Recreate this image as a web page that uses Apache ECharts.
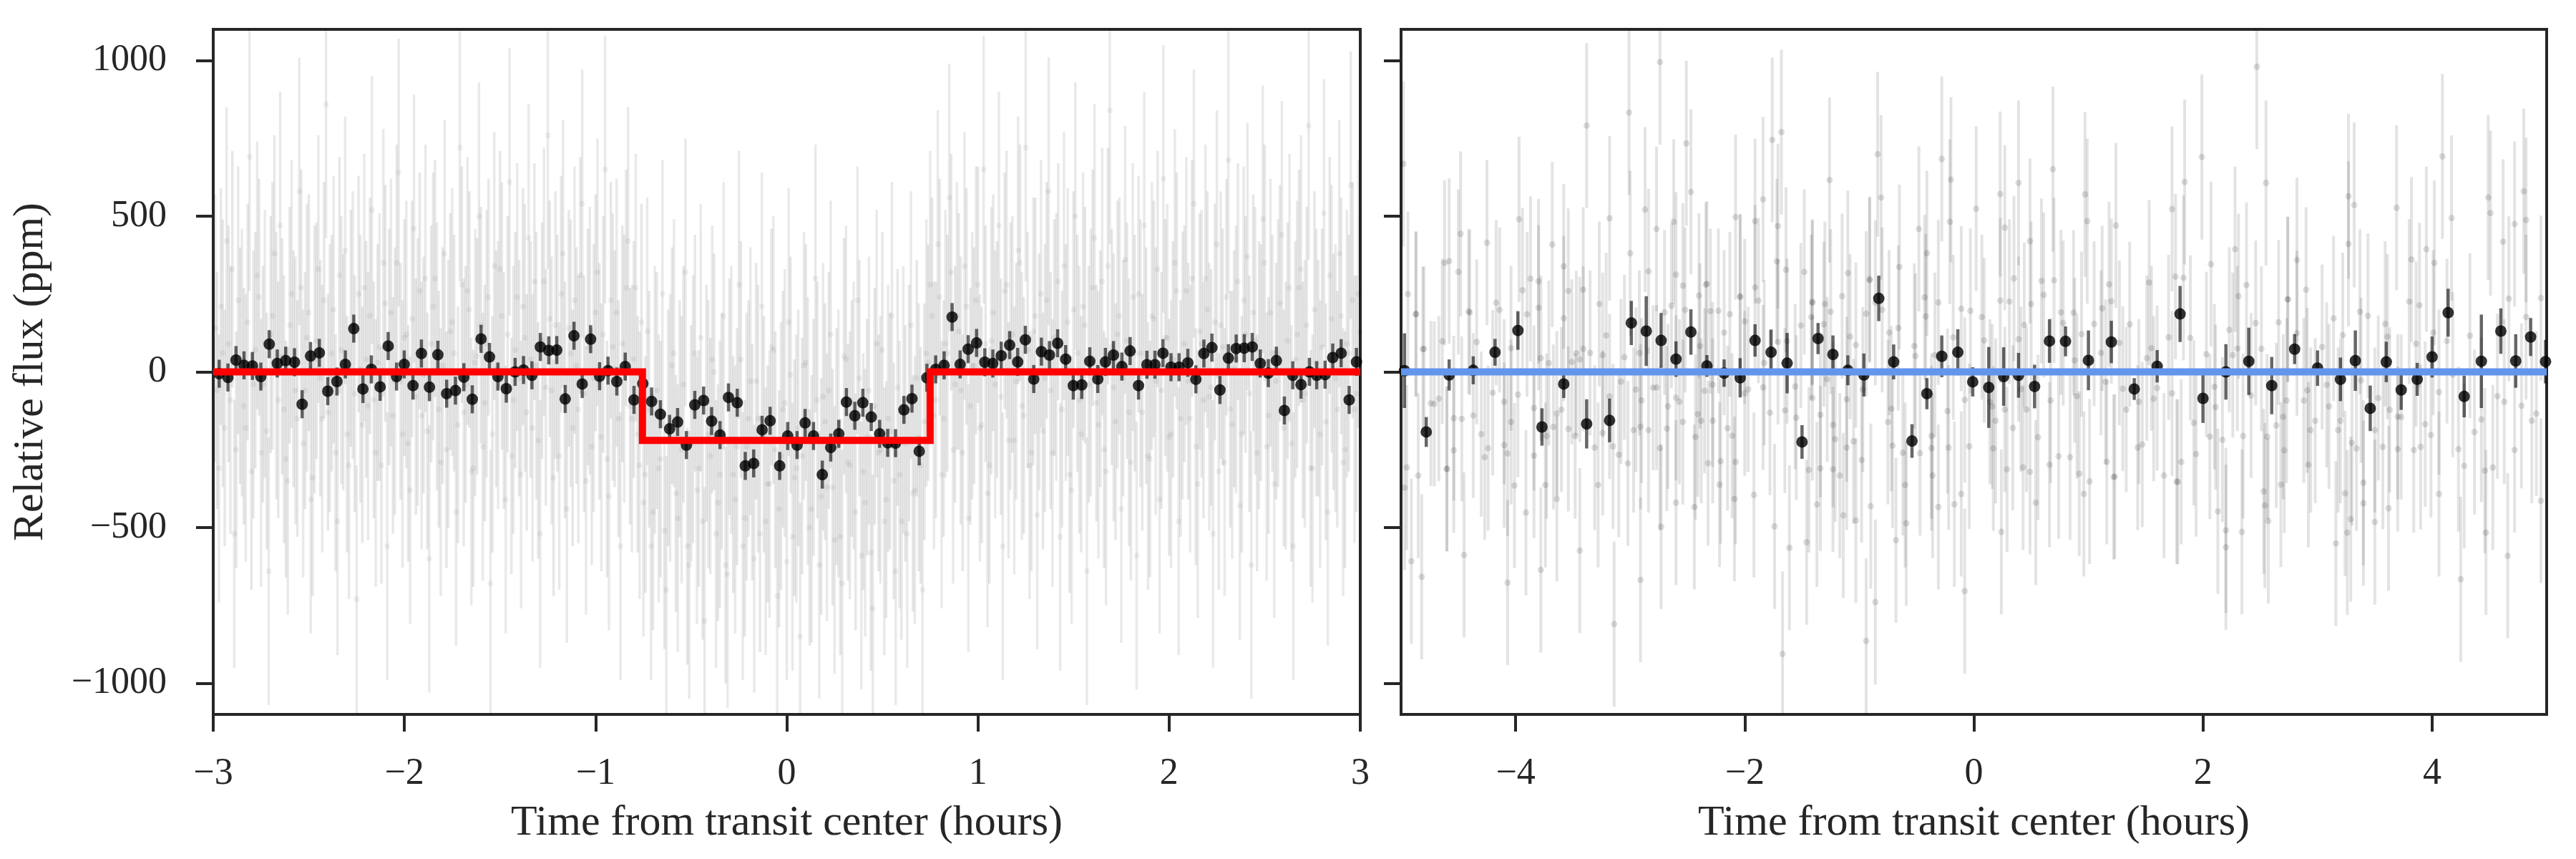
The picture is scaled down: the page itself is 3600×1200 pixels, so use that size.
<!DOCTYPE html>
<html><head><meta charset="utf-8">
<script src="https://cdn.jsdelivr.net/npm/echarts@6/dist/echarts.min.js"></script>
<style>html,body{margin:0;padding:0;background:#fff}#c{width:3600px;height:1200px}</style>
</head><body><div id="c"></div>
<script>
// ---------- DATA ----------
const xTicksLeft = [-3, -2, -1, 0, 1, 2, 3];
const xTicksRight = [-4, -2, 0, 2, 4];
const yTicks = [-1000, -500, 0, 500, 1000];

// transit model (left) and flat model (right)
const modelLeftT = [-3, -0.755, -0.755, 0.75, 0.75, 3];
const modelLeftF = [0, 0, -220, -220, 0, 0];
const modelRightT = [-5, 5];
const modelRightF = [0, 0];

// binned points, left panel [time h, flux ppm]
const leftBinned = [[-2.969,-6],[-2.923,-18],[-2.881,38],[-2.839,21],[-2.795,19],[-2.751,-15],[-2.707,89],[-2.665,27],[-2.621,36],[-2.575,31],[-2.535,-104],[-2.491,51],[-2.445,61],[-2.401,-62],[-2.353,-31],[-2.309,24],[-2.265,139],[-2.217,-55],[-2.173,8],[-2.127,-48],[-2.085,83],[-2.041,-15],[-2.001,24],[-1.955,-44],[-1.911,59],[-1.869,-49],[-1.825,55],[-1.779,-70],[-1.733,-60],[-1.689,-17],[-1.645,-88],[-1.599,106],[-1.555,48],[-1.511,-15],[-1.467,-54],[-1.421,0],[-1.377,6],[-1.333,-11],[-1.289,80],[-1.245,69],[-1.203,70],[-1.159,-87],[-1.113,116],[-1.070,-39],[-1.026,105],[-0.979,-14],[-0.935,4],[-0.889,-31],[-0.845,17],[-0.799,-90],[-0.753,-38],[-0.707,-95],[-0.661,-136],[-0.613,-183],[-0.571,-161],[-0.525,-235],[-0.481,-106],[-0.435,-92],[-0.393,-158],[-0.349,-203],[-0.305,-82],[-0.259,-99],[-0.217,-302],[-0.173,-294],[-0.129,-186],[-0.087,-157],[-0.037,-302],[0.005,-206],[0.054,-235],[0.096,-164],[0.140,-206],[0.186,-330],[0.230,-243],[0.272,-199],[0.312,-97],[0.356,-141],[0.398,-99],[0.442,-145],[0.486,-199],[0.528,-228],[0.569,-229],[0.613,-122],[0.655,-86],[0.693,-255],[0.733,-19],[0.779,8],[0.823,21],[0.865,176],[0.907,24],[0.949,73],[0.993,93],[1.036,31],[1.078,27],[1.122,52],[1.166,86],[1.208,32],[1.248,103],[1.292,-23],[1.332,65],[1.374,54],[1.417,92],[1.459,41],[1.499,-44],[1.543,-42],[1.585,34],[1.627,-23],[1.667,32],[1.709,54],[1.753,17],[1.796,67],[1.840,-44],[1.884,23],[1.926,23],[1.968,60],[2.010,15],[2.052,15],[2.098,29],[2.140,-24],[2.182,59],[2.224,78],[2.266,-58],[2.310,44],[2.351,75],[2.393,76],[2.435,80],[2.477,27],[2.519,-4],[2.561,36],[2.603,-124],[2.647,-11],[2.690,-41],[2.734,0],[2.772,-11],[2.816,-9],[2.856,46],[2.900,60],[2.942,-90],[2.980,32]];
const leftBinErr = 45;

// unbinned points, left panel (faint haze), set 1 [time h, flux ppm]
const leftRaw = [[-2.99,140],[-2.97,-310],[-2.95,60],[-2.93,420],[-2.91,-90],[-2.89,-520],[-2.87,230],[-2.85,30],[-2.83,-180],[-2.81,690],[-2.79,-40],[-2.77,310],[-2.75,-260],[-2.73,90],[-2.71,-640],[-2.69,180],[-2.67,20],[-2.65,470],[-2.63,-120],[-2.61,-350],
[-2.59,250],[-2.57,-60],[-2.55,580],[-2.53,-230],[-2.51,110],[-2.49,-410],[-2.47,40],[-2.45,330],[-2.43,-150],[-2.41,860],[-2.39,-20],[-2.37,200],[-2.35,-480],[-2.33,70],[-2.31,390],[-2.29,-300],[-2.27,150],[-2.25,-730],[-2.23,10],[-2.21,270],
[-2.19,-110],[-2.17,520],[-2.15,-260],[-2.13,80],[-2.11,350],[-2.09,-560],[-2.07,190],[-2.05,-30],[-2.03,640],[-2.01,-200],[-1.99,120],[-1.97,-380],[-1.95,460],[-1.93,0],[-1.91,-140],[-1.89,300],[-1.87,-600],[-1.85,210],[-1.83,50],[-1.81,-290],
[-1.79,380],[-1.77,-70],[-1.75,160],[-1.73,-450],[-1.71,720],[-1.69,-130],[-1.67,260],[-1.65,-320],[-1.63,30],[-1.61,500],[-1.59,-240],[-1.57,90],[-1.55,-680],[-1.53,340],[-1.51,-10],[-1.49,180],[-1.47,-410],[-1.45,610],[-1.43,-90],[-1.41,240],
[-1.39,-330],[-1.37,110],[-1.35,430],[-1.33,-180],[-1.31,20],[-1.29,-520],[-1.27,290],[-1.25,760],[-1.23,-60],[-1.21,150],[-1.19,-270],[-1.17,380],[-1.15,-440],[-1.13,60],[-1.11,230],[-1.09,-120],[-1.07,540],[-1.05,-350],[-1.03,100],[-1.01,-20],
[-0.99,320],[-0.97,-210],[-0.95,650],[-0.93,-400],[-0.91,80],[-0.89,190],[-0.87,-560],[-0.85,10],[-0.83,420],[-0.81,-150],[-0.79,270],[-0.77,-300],[-0.75,-420],[-0.73,130],[-0.71,-560],[-0.69,-90],[-0.67,-310],[-0.65,250],[-0.63,-700],[-0.61,-180],
[-0.59,60],[-0.57,-470],[-0.55,-250],[-0.53,320],[-0.51,-620],[-0.49,-120],[-0.47,-380],[-0.45,110],[-0.43,-800],[-0.41,-200],[-0.39,40],[-0.37,-520],[-0.35,-330],[-0.33,180],[-0.31,-650],[-0.29,-90],[-0.27,-410],[-0.25,280],[-0.23,-560],[-0.21,-240],
[-0.19,-30],[-0.17,-600],[-0.15,-150],[-0.13,210],[-0.11,-480],[-0.09,-360],[-0.07,70],[-0.05,-720],[-0.03,-270],[-0.01,-100],[0.01,160],[0.03,-530],[0.05,-310],[0.07,-850],[0.09,20],[0.11,-190],[0.13,-440],[0.15,300],[0.17,-620],[0.19,-80],
[0.21,-370],[0.23,120],[0.25,-540],[0.27,-230],[0.29,-680],[0.31,40],[0.33,-300],[0.35,-140],[0.37,230],[0.39,-590],[0.41,-420],[0.43,-60],[0.45,-760],[0.47,90],[0.49,-250],[0.51,-480],[0.53,-150],[0.55,180],[0.57,-640],[0.59,-330],
[0.61,-90],[0.63,-520],[0.65,150],[0.67,-380],[0.69,-210],[0.71,-700],[0.73,60],[0.75,280],[0.77,-140],[0.79,410],[0.81,-330],[0.83,90],[0.85,560],[0.87,-250],[0.89,180],[0.91,-60],[0.93,340],[0.95,-470],[0.97,20],[0.99,230],
[1.01,-180],[1.03,650],[1.05,-390],[1.07,100],[1.09,-40],[1.11,470],[1.13,-560],[1.15,280],[1.17,50],[1.19,-220],[1.21,390],[1.23,-110],[1.25,720],[1.27,-300],[1.29,130],[1.31,-460],[1.33,250],[1.35,-20],[1.37,580],[1.39,-260],
[1.41,80],[1.43,-530],[1.45,340],[1.47,160],[1.49,-380],[1.51,500],[1.53,-90],[1.55,210],[1.57,-640],[1.59,30],[1.61,430],[1.63,-170],[1.65,290],[1.67,-320],[1.69,840],[1.71,-50],[1.73,120],[1.75,-440],[1.77,360],[1.79,-130],
[1.81,240],[1.83,-590],[1.85,60],[1.87,470],[1.89,-270],[1.91,180],[1.93,-30],[1.95,-410],[1.97,620],[1.99,110],[2.01,-200],[2.03,350],[2.05,-480],[2.07,20],[2.09,260],[2.11,-150],[2.13,540],[2.15,-360],[2.17,90],[2.19,300],
[2.21,-80],[2.23,-520],[2.25,410],[2.27,150],[2.29,-290],[2.31,680],[2.33,-170],[2.35,40],[2.37,-430],[2.39,230],[2.41,370],[2.43,-620],[2.45,100],[2.47,-10],[2.49,490],[2.51,-240],[2.53,190],[2.55,-360],[2.57,60],[2.59,440],
[2.61,-140],[2.63,270],[2.65,-560],[2.67,120],[2.69,330],[2.71,-70],[2.73,790],[2.75,-310],[2.77,30],[2.79,-200],[2.81,510],[2.83,-450],[2.85,170],[2.87,-20],[2.89,380],[2.91,-290],[2.93,90],[2.95,600],[2.97,-120],[2.99,250]];
const leftRawErr = 430;

// unbinned points, left panel (faint haze), set 2 [time h, flux ppm]
const leftRaw2 = [[-2.98,-60],[-2.96,210],[-2.94,-180],[-2.92,90],[-2.90,330],[-2.88,-250],[-2.86,20],[-2.84,-110],[-2.82,160],[-2.80,-320],[-2.78,70],[-2.76,240],[-2.74,-40],[-2.72,-190],[-2.70,120],[-2.68,380],[-2.66,-90],[-2.64,50],[-2.62,-280],[-2.60,150],
[-2.58,10],[-2.56,-150],[-2.54,270],[-2.52,-60],[-2.50,190],[-2.48,-340],[-2.46,100],[-2.44,-20],[-2.42,230],[-2.40,-130],[-2.38,60],[-2.36,-260],[-2.34,310],[-2.32,0],[-2.30,-200],[-2.28,140],[-2.26,-70],[-2.24,250],[-2.22,-170],[-2.20,40],
[-2.18,180],[-2.16,-90],[-2.14,30],[-2.12,-300],[-2.10,220],[-2.08,80],[-2.06,-140],[-2.04,350],[-2.02,-30],[-2.00,110],[-1.98,-230],[-1.96,170],[-1.94,-80],[-1.92,260],[-1.90,-10],[-1.88,-190],[-1.86,90],[-1.84,300],[-1.82,-120],[-1.80,20],
[-1.78,-250],[-1.76,130],[-1.74,60],[-1.72,-170],[-1.70,280],[-1.68,-40],[-1.66,200],[-1.64,-310],[-1.62,50],[-1.60,150],[-1.58,-100],[-1.56,240],[-1.54,-200],[-1.52,10],[-1.50,330],[-1.48,-60],[-1.46,120],[-1.44,-270],[-1.42,70],[-1.40,-20],
[-1.38,210],[-1.36,-130],[-1.34,40],[-1.32,290],[-1.30,-220],[-1.28,100],[-1.26,-50],[-1.24,170],[-1.22,-340],[-1.20,60],[-1.18,250],[-1.16,-90],[-1.14,140],[-1.12,-180],[-1.10,20],[-1.08,310],[-1.06,-70],[-1.04,80],[-1.02,-240],[-1.00,190],
[-0.98,-30],[-0.96,120],[-0.94,-280],[-0.92,230],[-0.90,10],[-0.88,-150],[-0.86,90],[-0.84,270],[-0.82,-110],[-0.80,40],[-0.78,-200],[-0.76,160],[-0.74,-330],[-0.72,-120],[-0.70,-450],[-0.68,-60],[-0.66,-280],[-0.64,-510],[-0.62,-180],[-0.60,20],
[-0.58,-390],[-0.56,-150],[-0.54,-40],[-0.52,-560],[-0.50,-230],[-0.48,60],[-0.46,-310],[-0.44,-480],[-0.42,-100],[-0.40,-270],[-0.38,0],[-0.36,-420],[-0.34,-190],[-0.32,-620],[-0.30,-80],[-0.28,-330],[-0.26,-240],[-0.24,40],[-0.22,-470],[-0.20,-150],
[-0.18,-290],[-0.16,-30],[-0.14,-520],[-0.12,-200],[-0.10,-360],[-0.08,80],[-0.06,-250],[-0.04,-440],[-0.02,-120],[0.00,-610],[0.02,-10],[0.04,-340],[0.06,-180],[0.08,-270],[0.10,30],[0.12,-500],[0.14,-210],[0.16,-90],[0.18,-400],[0.20,-160],
[0.22,-60],[0.24,-370],[0.26,-240],[0.28,-530],[0.30,50],[0.32,-290],[0.34,-150],[0.36,-450],[0.38,-20],[0.40,-320],[0.42,-210],[0.44,-580],[0.46,-110],[0.48,-260],[0.50,70],[0.52,-410],[0.54,-190],[0.56,-350],[0.58,-50],[0.60,-480],
[0.62,-230],[0.64,-100],[0.66,-390],[0.68,-20],[0.70,-300],[0.72,-160],[0.74,30],[0.76,180],[0.78,-90],[0.80,240],[0.82,-150],[0.84,60],[0.86,320],[0.88,-40],[0.90,130],[0.92,-260],[0.94,210],[0.96,-110],[0.98,20],[1.00,280],
[1.02,-170],[1.04,90],[1.06,-300],[1.08,190],[1.10,40],[1.12,-80],[1.14,260],[1.16,-220],[1.18,120],[1.20,-30],[1.22,350],[1.24,-140],[1.26,70],[1.28,-260],[1.30,180],[1.32,0],[1.34,-190],[1.36,230],[1.38,-60],[1.40,110],
[1.42,290],[1.44,-120],[1.46,30],[1.48,-330],[1.50,200],[1.52,60],[1.54,-200],[1.56,150],[1.58,-40],[1.60,270],[1.62,-100],[1.64,10],[1.66,-250],[1.68,340],[1.70,80],[1.72,-160],[1.74,180],[1.76,-20],[1.78,100],[1.80,-290],
[1.82,60],[1.84,250],[1.86,-130],[1.88,20],[1.90,-280],[1.92,170],[1.94,330],[1.96,-60],[1.98,110],[2.00,-210],[2.02,40],[2.04,260],[2.06,-150],[2.08,90],[2.10,-30],[2.12,300],[2.14,-240],[2.16,130],[2.18,-90],[2.20,200],
[2.22,-50],[2.24,160],[2.26,-320],[2.28,80],[2.30,240],[2.32,-120],[2.34,10],[2.36,290],[2.38,-200],[2.40,120],[2.42,-70],[2.44,190],[2.46,-260],[2.48,30],[2.50,350],[2.52,-140],[2.54,60],[2.56,-30],[2.58,220],[2.60,-180],
[2.62,100],[2.64,-230],[2.66,40],[2.68,270],[2.70,-90],[2.72,150],[2.74,-310],[2.76,200],[2.78,-20],[2.80,80],[2.82,-160],[2.84,310],[2.86,0],[2.88,-120],[2.90,180],[2.92,-250],[2.94,60],[2.96,230],[2.98,-70],[3.00,130]];
const leftRaw2Err = 380;

// binned points, right panel [time h, flux ppm, error ppm]
const rightBinned = [[-4.97,4,120],[-4.78,-193,48],[-4.58,-10,50],[-4.37,5,45],[-4.18,63,43],[-3.98,133,62],[-3.77,-177,60],[-3.58,-39,45],[-3.38,-167,79],[-3.18,-156,70],[-2.99,157,71],[-2.86,131,112],[-2.73,101,88],[-2.60,41,57],[-2.47,128,73],[-2.33,19,35],[-2.18,-4,44],[-2.04,-19,63],[-1.91,101,52],[-1.77,63,73],[-1.63,28,97],[-1.50,-225,54],[-1.36,107,50],[-1.23,56,61],[-1.10,5,48],[-0.96,-10,69],[-0.83,236,73],[-0.70,32,56],[-0.54,-222,54],[-0.41,-70,50],[-0.28,50,67],[-0.14,63,74],[-0.01,-32,47],
[0.13,-50,130],[0.26,-15,94],[0.39,-11,72],[0.53,-47,70],[0.66,99,70],[0.80,98,48],[1.00,37,96],[1.20,96,68],[1.40,-55,35],[1.60,18,52],[1.80,186,90],[2.00,-85,79],[2.20,0,89],[2.40,34,108],[2.60,-44,92],[2.80,73,48],[3.00,12,57],[3.20,-24,70],[3.33,36,97],[3.46,-117,73],[3.60,32,65],[3.73,-58,64],[3.87,-24,53],[4.00,48,66],[4.14,190,77],[4.28,-79,67],[4.43,34,150],[4.60,131,73],[4.73,35,86],[4.86,112,61],[4.99,33,70]];

// unbinned points, right panel [time h, flux ppm]
const rightRaw = [[-4.98,668],[-4.94,250],[-4.87,186],[-4.81,73],[-4.62,350],[-4.58,356],[-4.50,321],[-4.48,443],[-4.41,194],[-4.25,415],[-4.17,222],[-4.14,199],[-3.97,490],[-3.94,262],[-3.87,299],[-3.80,291],[-3.80,206],[-3.68,409],[-3.58,339],[-3.54,260],[-3.41,264],[-3.38,791],[-3.27,218],[-3.18,493],[-3.01,833],[-3.00,381],[-2.87,521],[-2.84,323],[-2.74,995],[-2.77,459],[-2.62,482],[-2.60,312],[-2.51,734],[-2.47,578],[-2.40,245],[-2.34,280],[-2.08,497],[-2.04,240],[-1.91,484],[-1.84,554],[-1.76,745],[-1.72,355],[-1.71,468],[-1.68,770],[-1.64,328],[-1.48,321],[-1.41,222],[-1.26,616],[-1.10,317],[-0.91,298],[-0.84,699],[-0.81,560],[-0.65,337],[-0.48,459],[-0.41,381],[-0.28,684],[-0.20,617],[-0.21,482],[0.02,524],[0.23,571],
[0.27,463],[0.39,607],[0.49,420],[0.69,651],[0.97,570],[0.99,484],[1.24,470],[1.73,523],[1.84,610],[1.99,690],[2.07,346],[2.28,394],[2.47,980],[2.55,607],[2.74,233],[2.82,359],[3.27,411],[3.27,564],[3.32,536],[3.69,527],[3.82,361],[3.95,394],[4.02,350],[4.09,692],[4.17,494],[4.49,560],[4.51,510],[4.62,418],[4.72,475],[4.80,580],[4.82,488],
[-4.97,-372],[-4.91,-608],[-4.82,-658],[-4.95,-307],[-4.85,-333],[-4.60,-312],[-4.45,-588],[-4.07,-677],[-4.01,-365],[-3.91,-452],[-3.78,-636],[-3.74,-363],[-3.64,-408],[-3.44,-574],[-3.28,-363],[-3.14,-810],[-2.91,-668],[-2.73,-497],[-2.60,-420],[-2.44,-434],[-2.22,-362],[-2.09,-408],[-1.92,-395],[-1.74,-496],[-1.67,-906],[-1.61,-565],[-1.46,-547],[-1.37,-426],[-1.14,-461],[-1.03,-477],[-0.94,-864],[-0.86,-739],[-0.90,-431],[-0.68,-541],[-0.59,-486],[-0.31,-434],[-0.17,-425],[-0.08,-704],[-0.11,-392],[0.24,-514],
[0.54,-420],[0.96,-392],[1.22,-338],[1.77,-353],[2.13,-448],[2.20,-509],[2.20,-563],[2.34,-514],[2.53,-384],[2.54,-429],[2.57,-479],[2.68,-362],[2.92,-298],[3.16,-551],[3.24,-390],[3.26,-516],[3.29,-473],[3.40,-356],[3.40,-422],[3.50,-482],[3.62,-438],[4.06,-392],[4.25,-666],[4.47,-516],[4.66,-591],[4.95,-414],
[-4.87,185],[-4.80,74],[-4.74,-101],[-4.71,-103],[-4.67,-86],[-4.64,98],[-4.60,-311],[-4.54,-149],[-4.54,-252],[-4.47,-151],[-4.40,191],[-4.37,-140],[-4.34,96],[-4.30,-200],[-4.27,-274],[-4.24,-245],[-4.20,-67],[-4.10,-96],[-4.10,-235],[-4.07,-262],[-4.04,-161],[-4.04,76],[-3.98,-73],[-3.90,185],[-3.84,-116],[-3.84,-269],[-3.78,44],[-3.73,-206],[-3.71,28],[-3.67,-177],[-3.64,-134],[-3.60,-121],[-3.58,172],[-3.54,-183],[-3.51,32],[-3.48,-206],[-3.47,60],[-3.44,40],[-3.41,74],[-3.35,61],[-3.31,-243],[-3.24,54],[-3.24,-196],[-3.21,117],[-3.18,-79],[-3.15,-239],[-3.10,-266],[-3.08,-31],[-3.05,47],[-3.02,-294],[-2.97,-187],[-2.95,-57],[-2.92,61],[-2.91,-176],[-2.90,-92],[-2.84,-187],[-2.80,-51],[-2.77,-50],[-2.74,-245],[-2.70,191],[-2.68,-182],[-2.67,-111],[-2.64,212],[-2.60,-83],[-2.57,-96],[-2.54,-161],[-2.54,277],[-2.52,199],[-2.43,-209],[-2.41,-136],[-2.39,83],[-2.38,-157],[-2.35,-61],[-2.33,283],[-2.32,-293],[-2.30,195],[-2.28,-41],[-2.28,-157],[-2.23,196],[-2.21,-287],[-2.18,126],[-2.15,-181],[-2.13,185],[-2.11,-205],[-2.08,-289],[-2.04,243],[-2.00,-69],[-2.00,162],[-1.97,-56],[-1.91,271],[-1.88,229],[-1.84,-50],[-1.83,29],[-1.78,-131],[-1.71,96],[-1.65,-124],[-1.63,99],[-1.56,-47],[-1.55,-147],[-1.51,149],[-1.44,-315],[-1.42,176],[-1.41,-84],[-1.41,225],[-1.34,-138],[-1.34,-310],[-1.31,153],[-1.30,218],[-1.28,-24],[-1.25,193],[-1.23,-170],[-1.23,-313],[-1.21,-216],[-1.17,-333],[-1.15,243],[-1.11,-88],[-1.11,-243],[-1.08,113],[-1.05,-223],[-1.03,86],[-0.98,-283],[-0.97,-57],[-0.94,187],[-0.91,294],[-0.86,222],[-0.80,199],[-0.75,-161],[-0.74,126],[-0.72,-118],[-0.71,-237],[-0.66,141],[-0.62,-260],[-0.60,-363],[-0.52,83],[-0.51,51],[-0.47,-261],[-0.43,239],[-0.42,178],[-0.37,-206],[-0.37,-245],[-0.36,-333],[-0.34,54],[-0.31,223],[-0.23,-126],[-0.22,-243],[-0.18,111],[-0.11,203],[-0.08,-90],[-0.04,-239],[-0.03,196],
[0.07,176],[0.09,101],[0.14,-96],[0.16,-111],[0.17,-246],[0.19,-157],[0.23,229],[0.27,-121],[0.29,-313],[0.31,226],[0.34,-180],[0.35,300],[0.39,105],[0.41,-56],[0.43,-307],[0.44,151],[0.46,-121],[0.49,-321],[0.50,218],[0.56,-210],[0.59,292],[0.61,247],[0.66,-298],[0.67,-92],[0.70,294],[0.74,-271],[0.76,191],[0.78,157],[0.84,-274],[0.87,190],[0.88,37],[0.90,-78],[0.92,-327],[0.94,121],[1.01,-352],[1.05,154],[1.11,61],[1.12,204],[1.15,-32],[1.16,-289],[1.18,281],[1.20,227],[1.23,-336],[1.27,93],[1.30,-54],[1.33,-121],[1.36,153],[1.43,-243],[1.44,-96],[1.47,-233],[1.51,44],[1.53,287],[1.55,76],[1.57,-86],[1.60,-52],[1.66,-333],[1.70,111],[1.73,-69],[1.76,306],[1.78,-353],[1.81,-289],[1.83,302],[1.89,109],[1.92,-164],[1.94,-264],[2.03,57],[2.06,-208],[2.10,-48],[2.11,-113],[2.17,-218],[2.23,135],[2.26,54],[2.30,75],[2.31,243],[2.35,-206],[2.38,279],[2.42,-76],[2.46,157],[2.51,74],[2.56,-208],[2.64,-172],[2.66,159],[2.70,-144],[2.71,-252],[2.73,-92],[2.74,233],[2.82,124],[2.88,-92],[2.90,264],[2.91,-59],[2.94,-187],[2.98,-157],[3.04,80],[3.08,-42],[3.10,-111],[3.14,172],[3.18,-187],[3.20,-157],[3.22,118],[3.30,-228],[3.34,-246],[3.37,193],[3.38,-27],[3.44,180],[3.50,-187],[3.53,-84],[3.57,-241],[3.59,154],[3.61,113],[3.63,-122],[3.70,-144],[3.70,-248],[3.73,-145],[3.80,226],[3.84,-251],[3.86,90],[3.89,214],[3.90,-241],[3.94,-168],[3.99,-203],[4.01,126],[4.06,-65],[4.13,99],[4.18,-9],[4.23,-248],[4.28,-302],[4.33,116],[4.37,-193],[4.43,-153],[4.46,-317],[4.53,-307],[4.57,-78],[4.63,-96],[4.67,235],[4.72,-251],[4.78,-109],[4.82,176],[4.87,-157],[4.91,-134],[4.95,237]];
const rightRawErr = 265;

// ---------- CHART ----------
const INK = '#262626';
const FONT = 'Liberation Serif';
const minus = v => (v < 0 ? '\u2212' + Math.abs(v) : String(v));

function withErr(pts, e) { return pts.map(p => [p[0], p[1], p.length > 2 ? p[2] : e]); }
function pairs(ts, fs) { return ts.map((t, i) => [t, fs[i]]); }

function errSeries(data, idx, color, width, z) {
  return {
    type: 'custom', xAxisIndex: idx, yAxisIndex: idx, data: data, z: z, clip: true, silent: true,
    encode: { x: 0, y: 1 },
    renderItem: function (params, api) {
      const x = api.value(0), y = api.value(1), e = api.value(2);
      const a = api.coord([x, y + e]), b = api.coord([x, y - e]);
      return { type: 'line', shape: { x1: a[0], y1: a[1], x2: b[0], y2: b[1] },
               style: { stroke: color, lineWidth: width } };
    }
  };
}
function dotSeries(data, idx, color, size, z) {
  return { type: 'scatter', xAxisIndex: idx, yAxisIndex: idx, data: data.map(p => [p[0], p[1]]),
           symbol: 'circle', symbolSize: size, itemStyle: { color: color }, z: z, clip: true, silent: true };
}
function lineSeries(data, idx, color, z) {
  return { type: 'line', xAxisIndex: idx, yAxisIndex: idx, data: data, showSymbol: false, symbol: 'none',
           lineStyle: { color: color, width: 10, cap: 'butt', join: 'miter' }, z: z, clip: true, silent: true };
}

const tickStyle = { show: true, inside: false, length: 24, lineStyle: { color: INK, width: 4 } };
const labelStyle = { fontFamily: FONT, fontSize: 52, color: INK, formatter: minus };
const nameStyle = { fontFamily: FONT, fontSize: 60, color: INK };
const hiddenLine = { show: false, onZero: false };

const option = {
  animation: false,
  backgroundColor: '#ffffff',
  grid: [
    { left: 298, top: 41, width: 1603, height: 957, show: true, borderColor: INK, borderWidth: 4, backgroundColor: 'transparent' },
    { left: 1958, top: 41, width: 1601, height: 957, show: true, borderColor: INK, borderWidth: 4, backgroundColor: 'transparent' }
  ],
  xAxis: [
    { type: 'value', gridIndex: 0, min: -3, max: 3, interval: 1, position: 'bottom',
      axisLine: hiddenLine, splitLine: { show: false },
      axisTick: Object.assign({}, tickStyle, { customValues: xTicksLeft }),
      axisLabel: Object.assign({}, labelStyle, { margin: 57, customValues: xTicksLeft }),
      name: 'Time from transit center (hours)', nameLocation: 'middle', nameGap: 122, nameTextStyle: nameStyle },
    { type: 'value', gridIndex: 1, min: -5, max: 5, position: 'bottom',
      axisLine: hiddenLine, splitLine: { show: false },
      axisTick: Object.assign({}, tickStyle, { customValues: xTicksRight }),
      axisLabel: Object.assign({}, labelStyle, { margin: 57, customValues: xTicksRight }),
      name: 'Time from transit center (hours)', nameLocation: 'middle', nameGap: 122, nameTextStyle: nameStyle }
  ],
  yAxis: [
    { type: 'value', gridIndex: 0, min: -1100, max: 1100, position: 'left',
      axisLine: hiddenLine, splitLine: { show: false },
      axisTick: Object.assign({}, tickStyle, { customValues: yTicks }),
      axisLabel: Object.assign({}, labelStyle, { margin: 65, customValues: yTicks }),
      name: 'Relative flux (ppm)', nameLocation: 'middle', nameGap: 225, nameTextStyle: nameStyle },
    { type: 'value', gridIndex: 1, min: -1100, max: 1100, position: 'left',
      axisLine: hiddenLine, splitLine: { show: false },
      axisTick: Object.assign({}, tickStyle, { customValues: yTicks }),
      axisLabel: { show: false, customValues: yTicks } }
  ],
  series: [
    errSeries(withErr(leftRaw, leftRawErr), 0, 'rgba(0,0,0,0.085)', 3.5, 1),
    errSeries(withErr(leftRaw2, leftRaw2Err), 0, 'rgba(0,0,0,0.095)', 3.5, 1),
    dotSeries(leftRaw, 0, 'rgba(0,0,0,0.07)', 8, 2),
    dotSeries(leftRaw2, 0, 'rgba(0,0,0,0.07)', 8, 2),
    errSeries(withErr(leftBinned, leftBinErr), 0, 'rgba(0,0,0,0.6)', 4.5, 3),
    dotSeries(leftBinned, 0, '#000000', 16, 4),
    lineSeries(pairs(modelLeftT, modelLeftF), 0, '#ff0000', 6),

    errSeries(withErr(rightRaw, rightRawErr), 1, 'rgba(0,0,0,0.11)', 4, 1),
    dotSeries(rightRaw, 1, 'rgba(0,0,0,0.16)', 9, 2),
    errSeries(withErr(rightBinned, 60), 1, 'rgba(0,0,0,0.6)', 4.5, 3),
    dotSeries(rightBinned, 1, '#000000', 16, 4),
    lineSeries(pairs(modelRightT, modelRightF), 1, '#6495ED', 6)
  ]
};

const chart = echarts.init(document.getElementById('c'), null, { renderer: 'canvas' });
chart.setOption(option);
</script>
</body></html>
